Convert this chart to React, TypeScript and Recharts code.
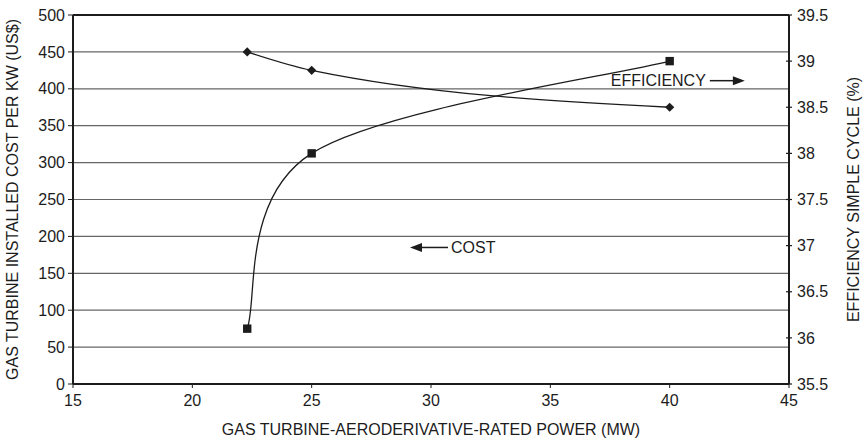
import React from "react";
import { CartesianGrid, ComposedChart, Line, ReferenceDot, ReferenceLine, XAxis, YAxis } from "recharts";

const powerTicks = [15, 20, 25, 30, 35, 40, 45];
const costTicks = [0, 50, 100, 150, 200, 250, 300, 350, 400, 450, 500];
const efficiencyTicks = [35.5, 36, 36.5, 37, 37.5, 38, 38.5, 39, 39.5];

// installed cost per kW (left axis)
const costPower = [22.3, 25, 40];
const costValues = [450, 425, 375];

// simple cycle efficiency (right axis)
const efficiencyPower = [22.3, 25, 40];
const efficiencyValues = [36.1, 38, 39];

const costData = costPower.map((p, i) => ({ power: p, cost: costValues[i] }));
const efficiencyData = efficiencyPower.map((p, i) => ({ power: p, efficiency: efficiencyValues[i] }));

const INK = "#1c1c1c";
const FONT = "'Liberation Sans', Arial, Helvetica, sans-serif";

// spreadsheet style smoothing: cardinal spline with 1/6 tangents
function smoothCurve(context: any) {
  let pts: number[][] = [];
  return {
    areaStart() {},
    areaEnd() {},
    lineStart() {
      pts = [];
    },
    lineEnd() {
      if (!pts.length) return;
      context.moveTo(pts[0][0], pts[0][1]);
      for (let i = 0; i < pts.length - 1; i++) {
        const p0 = pts[Math.max(i - 1, 0)];
        const p1 = pts[i];
        const p2 = pts[i + 1];
        const p3 = pts[Math.min(i + 2, pts.length - 1)];
        context.bezierCurveTo(
          p1[0] + (p2[0] - p0[0]) / 6,
          p1[1] + (p2[1] - p0[1]) / 6,
          p2[0] - (p3[0] - p1[0]) / 6,
          p2[1] - (p3[1] - p1[1]) / 6,
          p2[0],
          p2[1]
        );
      }
    },
    point(x: number, y: number) {
      pts.push([+x, +y]);
    }
  };
}

const Diamond = (props: any) => {
  const { cx, cy, index } = props;
  const r = 4.6;
  return <path key={`d-${index}`} d={`M${cx},${cy - r}L${cx + r},${cy}L${cx},${cy + r}L${cx - r},${cy}Z`} fill={INK} />;
};

const Square = (props: any) => {
  const { cx, cy, index } = props;
  return <rect key={`s-${index}`} x={cx - 4.2} y={cy - 4.2} width={8.4} height={8.4} fill={INK} />;
};

// right axis ticks cross the axis line
const RightTick = (props: any) => {
  const { x, y, payload } = props;
  const ax = x - 8;
  return (
    <g>
      <line x1={ax - 3} x2={ax + 3} y1={y} y2={y} stroke={INK} strokeWidth={1.2} />
      <text x={x} y={y} dy="0.355em" textAnchor="start" fill={INK} fontSize={16} fontFamily={FONT}>
        {payload.value}
      </text>
    </g>
  );
};

const EfficiencyNote = (props: any) => {
  const { cx, cy } = props;
  return (
    <g>
      <text x={cx - 39} y={cy} dy="0.355em" textAnchor="end" fill={INK} fontSize={16} fontFamily={FONT}>
        EFFICIENCY
      </text>
      <line x1={cx - 35} x2={cx - 11} y1={cy} y2={cy} stroke={INK} strokeWidth={1.5} />
      <path d={`M${cx},${cy}L${cx - 12},${cy - 4.5}L${cx - 12},${cy + 4.5}Z`} fill={INK} />
    </g>
  );
};

const CostNote = (props: any) => {
  const { cx, cy } = props;
  return (
    <g>
      <path d={`M${cx},${cy}L${cx + 12},${cy - 4.5}L${cx + 12},${cy + 4.5}Z`} fill={INK} />
      <line x1={cx + 11} x2={cx + 38} y1={cy} y2={cy} stroke={INK} strokeWidth={1.5} />
      <text x={cx + 41} y={cy} dy="0.355em" textAnchor="start" fill={INK} fontSize={16} fontFamily={FONT}>
        COST
      </text>
    </g>
  );
};

export default function App() {
  const tickStyle = { fontSize: 16, fill: INK, fontFamily: FONT };
  return (
    <div style={{ position: "absolute", left: 0, top: 0, width: 866, height: 442, background: "#fff", fontFamily: FONT }}>
      <ComposedChart width={866} height={442} margin={{ top: 15, right: 0, bottom: 0, left: 0 }}>
        <CartesianGrid yAxisId="left" vertical={false} stroke="#666" strokeWidth={1.2} />
        <XAxis
          type="number"
          dataKey="power"
          domain={[15, 45]}
          ticks={powerTicks}
          allowDataOverflow
          height={58}
          tick={tickStyle}
          tickSize={4}
          tickMargin={7}
          axisLine={{ stroke: INK, strokeWidth: 2 }}
          tickLine={{ stroke: INK }}
          label={{
            value: "GAS TURBINE-AERODERIVATIVE-RATED POWER (MW)",
            position: "insideBottom",
            offset: 7,
            style: { fontSize: 16, fill: INK, fontFamily: FONT }
          }}
        />
        <YAxis
          yAxisId="left"
          domain={[0, 500]}
          ticks={costTicks}
          width={73}
          tick={tickStyle}
          tickSize={5}
          tickMargin={3}
          axisLine={{ stroke: INK, strokeWidth: 2 }}
          tickLine={{ stroke: INK }}
          label={{
            value: "GAS TURBINE INSTALLED COST PER KW (US$)",
            angle: -90,
            position: "insideLeft",
            offset: 12,
            style: { textAnchor: "middle", fontSize: 16, fill: INK, fontFamily: FONT }
          }}
        />
        <YAxis
          yAxisId="right"
          orientation="right"
          domain={[35.5, 39.5]}
          ticks={efficiencyTicks}
          width={77}
          tick={<RightTick />}
          tickSize={4}
          tickMargin={4}
          tickLine={false}
          axisLine={{ stroke: INK, strokeWidth: 2 }}
          label={{
            value: "EFFICIENCY SIMPLE CYCLE (%)",
            angle: -90,
            position: "insideRight",
            offset: 13,
            style: { textAnchor: "middle", fontSize: 16, fill: INK, fontFamily: FONT }
          }}
        />
        <ReferenceLine yAxisId="left" y={500} stroke={INK} strokeWidth={2.2} />
        <Line
          yAxisId="left"
          data={costData}
          dataKey="cost"
          type="monotone"
          stroke={INK}
          strokeWidth={1.3}
          dot={Diamond}
          activeDot={false}
          isAnimationActive={false}
        />
        <Line
          yAxisId="right"
          data={efficiencyData}
          dataKey="efficiency"
          type={smoothCurve as any}
          stroke={INK}
          strokeWidth={1.3}
          dot={Square}
          activeDot={false}
          isAnimationActive={false}
        />
        <ReferenceDot yAxisId="left" x={43.15} y={411} r={0} shape={EfficiencyNote} />
        <ReferenceDot yAxisId="left" x={29.12} y={185} r={0} shape={CostNote} />
      </ComposedChart>
    </div>
  );
}
